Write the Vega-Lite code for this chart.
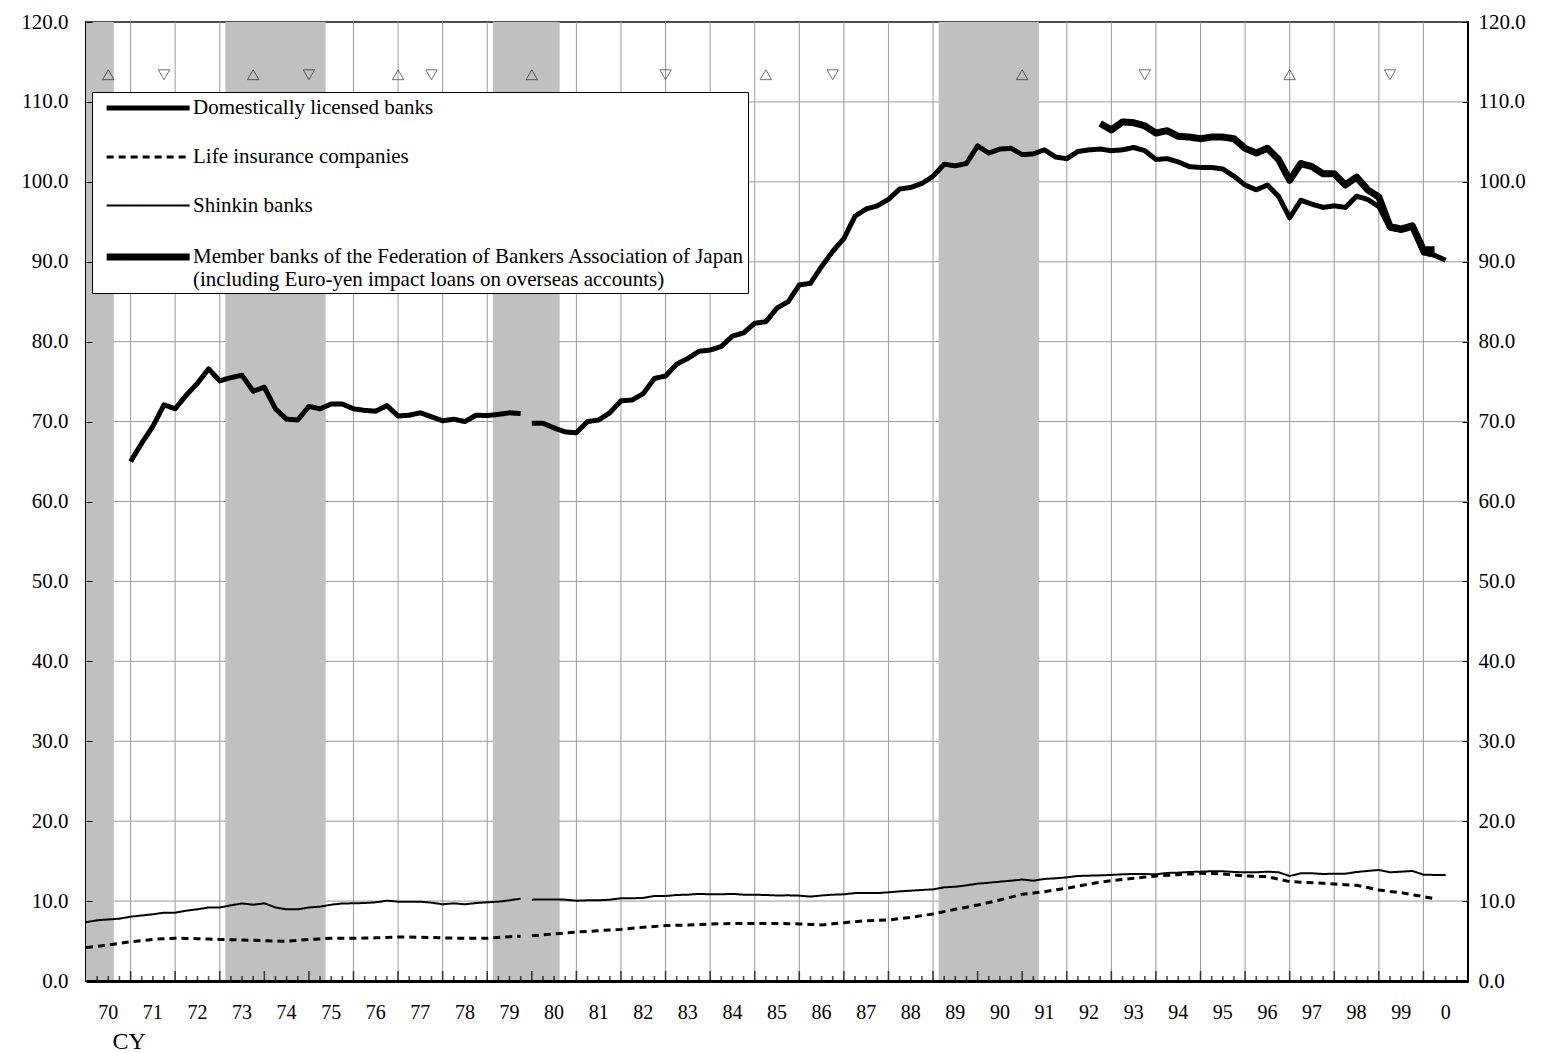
{
  "$schema": "https://vega.github.io/schema/vega-lite/v6.json",
  "width": 1382,
  "height": 959,
  "autosize": {"type": "none"},
  "padding": {"left": 86, "top": 22, "right": 77, "bottom": 72},
  "background": "white",
  "config": {
    "view": {"stroke": "black", "strokeWidth": 2},
    "font": "Liberation Serif",
    "legend": {
      "orient": "none",
      "legendX": 6,
      "legendY": 70,
      "fillColor": "white",
      "strokeColor": "black",
      "padding": 3,
      "symbolType": "M-0.229,0H7.77",
      "symbolSize": 430.6,
      "symbolStrokeColor": "black",
      "labelFont": "Liberation Serif",
      "labelFontSize": 21,
      "labelColor": "black",
      "labelLimit": 0,
      "labelOffset": 70,
      "rowPadding": 27
    }
  },
  "datasets": {
    "vgrid": [{"g":1971},{"g":1972},{"g":1973},{"g":1974},{"g":1975},{"g":1976},{"g":1977},{"g":1978},{"g":1979},{"g":1980},{"g":1981},{"g":1982},{"g":1983},{"g":1984},{"g":1985},{"g":1986},{"g":1987},{"g":1988},{"g":1989},{"g":1990},{"g":1991},{"g":1992},{"g":1993},{"g":1994},{"g":1995},{"g":1996},{"g":1997},{"g":1998},{"g":1999},{"g":2000}],
    "quarters": [{"q":1970.25},{"q":1970.5},{"q":1970.75},{"q":1971.25},{"q":1971.5},{"q":1971.75},{"q":1972.25},{"q":1972.5},{"q":1972.75},{"q":1973.25},{"q":1973.5},{"q":1973.75},{"q":1974.25},{"q":1974.5},{"q":1974.75},{"q":1975.25},{"q":1975.5},{"q":1975.75},{"q":1976.25},{"q":1976.5},{"q":1976.75},{"q":1977.25},{"q":1977.5},{"q":1977.75},{"q":1978.25},{"q":1978.5},{"q":1978.75},{"q":1979.25},{"q":1979.5},{"q":1979.75},{"q":1980.25},{"q":1980.5},{"q":1980.75},{"q":1981.25},{"q":1981.5},{"q":1981.75},{"q":1982.25},{"q":1982.5},{"q":1982.75},{"q":1983.25},{"q":1983.5},{"q":1983.75},{"q":1984.25},{"q":1984.5},{"q":1984.75},{"q":1985.25},{"q":1985.5},{"q":1985.75},{"q":1986.25},{"q":1986.5},{"q":1986.75},{"q":1987.25},{"q":1987.5},{"q":1987.75},{"q":1988.25},{"q":1988.5},{"q":1988.75},{"q":1989.25},{"q":1989.5},{"q":1989.75},{"q":1990.25},{"q":1990.5},{"q":1990.75},{"q":1991.25},{"q":1991.5},{"q":1991.75},{"q":1992.25},{"q":1992.5},{"q":1992.75},{"q":1993.25},{"q":1993.5},{"q":1993.75},{"q":1994.25},{"q":1994.5},{"q":1994.75},{"q":1995.25},{"q":1995.5},{"q":1995.75},{"q":1996.25},{"q":1996.5},{"q":1996.75},{"q":1997.25},{"q":1997.5},{"q":1997.75},{"q":1998.25},{"q":1998.5},{"q":1998.75},{"q":1999.25},{"q":1999.5},{"q":1999.75},{"q":2000.25},{"q":2000.5},{"q":2000.75}],
    "yearlabels": [{"t":1970.5,"lab":"70"},{"t":1971.5,"lab":"71"},{"t":1972.5,"lab":"72"},{"t":1973.5,"lab":"73"},{"t":1974.5,"lab":"74"},{"t":1975.5,"lab":"75"},{"t":1976.5,"lab":"76"},{"t":1977.5,"lab":"77"},{"t":1978.5,"lab":"78"},{"t":1979.5,"lab":"79"},{"t":1980.5,"lab":"80"},{"t":1981.5,"lab":"81"},{"t":1982.5,"lab":"82"},{"t":1983.5,"lab":"83"},{"t":1984.5,"lab":"84"},{"t":1985.5,"lab":"85"},{"t":1986.5,"lab":"86"},{"t":1987.5,"lab":"87"},{"t":1988.5,"lab":"88"},{"t":1989.5,"lab":"89"},{"t":1990.5,"lab":"90"},{"t":1991.5,"lab":"91"},{"t":1992.5,"lab":"92"},{"t":1993.5,"lab":"93"},{"t":1994.5,"lab":"94"},{"t":1995.5,"lab":"95"},{"t":1996.5,"lab":"96"},{"t":1997.5,"lab":"97"},{"t":1998.5,"lab":"98"},{"t":1999.5,"lab":"99"},{"t":2000.5,"lab":"0"}],
    "hgrid": [{"g":0},{"g":10},{"g":20},{"g":30},{"g":40},{"g":50},{"g":60},{"g":70},{"g":80},{"g":90},{"g":100},{"g":110},{"g":120}],
    "bands": [
      {"start":1970.0,"end":1970.625},
      {"start":1973.125,"end":1975.375},
      {"start":1979.125,"end":1980.625},
      {"start":1989.125,"end":1991.375}
    ],
    "marks": [
      {"t":1970.5,"k":"peak"},{"t":1971.75,"k":"trough"},{"t":1973.75,"k":"peak"},{"t":1975.0,"k":"trough"},
      {"t":1977.0,"k":"peak"},{"t":1977.75,"k":"trough"},{"t":1980.0,"k":"peak"},{"t":1983.0,"k":"trough"},
      {"t":1985.25,"k":"peak"},{"t":1986.75,"k":"trough"},{"t":1991.0,"k":"peak"},{"t":1993.75,"k":"trough"},
      {"t":1997.0,"k":"peak"},{"t":1999.25,"k":"trough"}
    ],
    "series": [
      {"s":"Domestically licensed banks","g":1,"t":1971,"v":65.0},
      {"s":"Domestically licensed banks","g":1,"t":1971.25,"v":67.3},
      {"s":"Domestically licensed banks","g":1,"t":1971.5,"v":69.4},
      {"s":"Domestically licensed banks","g":1,"t":1971.75,"v":72.1},
      {"s":"Domestically licensed banks","g":1,"t":1972,"v":71.6},
      {"s":"Domestically licensed banks","g":1,"t":1972.25,"v":73.3},
      {"s":"Domestically licensed banks","g":1,"t":1972.5,"v":74.8},
      {"s":"Domestically licensed banks","g":1,"t":1972.75,"v":76.6},
      {"s":"Domestically licensed banks","g":1,"t":1973,"v":75.1},
      {"s":"Domestically licensed banks","g":1,"t":1973.25,"v":75.5},
      {"s":"Domestically licensed banks","g":1,"t":1973.5,"v":75.8},
      {"s":"Domestically licensed banks","g":1,"t":1973.75,"v":73.8},
      {"s":"Domestically licensed banks","g":1,"t":1974,"v":74.3},
      {"s":"Domestically licensed banks","g":1,"t":1974.25,"v":71.6},
      {"s":"Domestically licensed banks","g":1,"t":1974.5,"v":70.3},
      {"s":"Domestically licensed banks","g":1,"t":1974.75,"v":70.2},
      {"s":"Domestically licensed banks","g":1,"t":1975,"v":71.9},
      {"s":"Domestically licensed banks","g":1,"t":1975.25,"v":71.6},
      {"s":"Domestically licensed banks","g":1,"t":1975.5,"v":72.2},
      {"s":"Domestically licensed banks","g":1,"t":1975.75,"v":72.2},
      {"s":"Domestically licensed banks","g":1,"t":1976,"v":71.6},
      {"s":"Domestically licensed banks","g":1,"t":1976.25,"v":71.4},
      {"s":"Domestically licensed banks","g":1,"t":1976.5,"v":71.3},
      {"s":"Domestically licensed banks","g":1,"t":1976.75,"v":72.0},
      {"s":"Domestically licensed banks","g":1,"t":1977,"v":70.7},
      {"s":"Domestically licensed banks","g":1,"t":1977.25,"v":70.8},
      {"s":"Domestically licensed banks","g":1,"t":1977.5,"v":71.1},
      {"s":"Domestically licensed banks","g":1,"t":1977.75,"v":70.6},
      {"s":"Domestically licensed banks","g":1,"t":1978,"v":70.1},
      {"s":"Domestically licensed banks","g":1,"t":1978.25,"v":70.3},
      {"s":"Domestically licensed banks","g":1,"t":1978.5,"v":70.0},
      {"s":"Domestically licensed banks","g":1,"t":1978.75,"v":70.8},
      {"s":"Domestically licensed banks","g":1,"t":1979,"v":70.75},
      {"s":"Domestically licensed banks","g":1,"t":1979.25,"v":70.9},
      {"s":"Domestically licensed banks","g":1,"t":1979.5,"v":71.1},
      {"s":"Domestically licensed banks","g":1,"t":1979.75,"v":71.0},
      {"s":"Domestically licensed banks","g":2,"t":1980,"v":69.8},
      {"s":"Domestically licensed banks","g":2,"t":1980.25,"v":69.8},
      {"s":"Domestically licensed banks","g":2,"t":1980.5,"v":69.2},
      {"s":"Domestically licensed banks","g":2,"t":1980.75,"v":68.7},
      {"s":"Domestically licensed banks","g":2,"t":1981,"v":68.6},
      {"s":"Domestically licensed banks","g":2,"t":1981.25,"v":70.0},
      {"s":"Domestically licensed banks","g":2,"t":1981.5,"v":70.2},
      {"s":"Domestically licensed banks","g":2,"t":1981.75,"v":71.1},
      {"s":"Domestically licensed banks","g":2,"t":1982,"v":72.6},
      {"s":"Domestically licensed banks","g":2,"t":1982.25,"v":72.7},
      {"s":"Domestically licensed banks","g":2,"t":1982.5,"v":73.5},
      {"s":"Domestically licensed banks","g":2,"t":1982.75,"v":75.4},
      {"s":"Domestically licensed banks","g":2,"t":1983,"v":75.7},
      {"s":"Domestically licensed banks","g":2,"t":1983.25,"v":77.2},
      {"s":"Domestically licensed banks","g":2,"t":1983.5,"v":77.9},
      {"s":"Domestically licensed banks","g":2,"t":1983.75,"v":78.8},
      {"s":"Domestically licensed banks","g":2,"t":1984,"v":78.95},
      {"s":"Domestically licensed banks","g":2,"t":1984.25,"v":79.4},
      {"s":"Domestically licensed banks","g":2,"t":1984.5,"v":80.7},
      {"s":"Domestically licensed banks","g":2,"t":1984.75,"v":81.1},
      {"s":"Domestically licensed banks","g":2,"t":1985,"v":82.3},
      {"s":"Domestically licensed banks","g":2,"t":1985.25,"v":82.5},
      {"s":"Domestically licensed banks","g":2,"t":1985.5,"v":84.2},
      {"s":"Domestically licensed banks","g":2,"t":1985.75,"v":85.0},
      {"s":"Domestically licensed banks","g":2,"t":1986,"v":87.1},
      {"s":"Domestically licensed banks","g":2,"t":1986.25,"v":87.3},
      {"s":"Domestically licensed banks","g":2,"t":1986.5,"v":89.4},
      {"s":"Domestically licensed banks","g":2,"t":1986.75,"v":91.3},
      {"s":"Domestically licensed banks","g":2,"t":1987,"v":92.9},
      {"s":"Domestically licensed banks","g":2,"t":1987.25,"v":95.7},
      {"s":"Domestically licensed banks","g":2,"t":1987.5,"v":96.6},
      {"s":"Domestically licensed banks","g":2,"t":1987.75,"v":97.0},
      {"s":"Domestically licensed banks","g":2,"t":1988,"v":97.8},
      {"s":"Domestically licensed banks","g":2,"t":1988.25,"v":99.1},
      {"s":"Domestically licensed banks","g":2,"t":1988.5,"v":99.3},
      {"s":"Domestically licensed banks","g":2,"t":1988.75,"v":99.8},
      {"s":"Domestically licensed banks","g":2,"t":1989,"v":100.7},
      {"s":"Domestically licensed banks","g":2,"t":1989.25,"v":102.2},
      {"s":"Domestically licensed banks","g":2,"t":1989.5,"v":102.0},
      {"s":"Domestically licensed banks","g":2,"t":1989.75,"v":102.3},
      {"s":"Domestically licensed banks","g":2,"t":1990,"v":104.5},
      {"s":"Domestically licensed banks","g":2,"t":1990.25,"v":103.6},
      {"s":"Domestically licensed banks","g":2,"t":1990.5,"v":104.1},
      {"s":"Domestically licensed banks","g":2,"t":1990.75,"v":104.2},
      {"s":"Domestically licensed banks","g":2,"t":1991,"v":103.4},
      {"s":"Domestically licensed banks","g":2,"t":1991.25,"v":103.5},
      {"s":"Domestically licensed banks","g":2,"t":1991.5,"v":104.0},
      {"s":"Domestically licensed banks","g":2,"t":1991.75,"v":103.1},
      {"s":"Domestically licensed banks","g":2,"t":1992,"v":102.9},
      {"s":"Domestically licensed banks","g":2,"t":1992.25,"v":103.8},
      {"s":"Domestically licensed banks","g":2,"t":1992.5,"v":104.0},
      {"s":"Domestically licensed banks","g":2,"t":1992.75,"v":104.1},
      {"s":"Domestically licensed banks","g":2,"t":1993,"v":103.9},
      {"s":"Domestically licensed banks","g":2,"t":1993.25,"v":104.0},
      {"s":"Domestically licensed banks","g":2,"t":1993.5,"v":104.3},
      {"s":"Domestically licensed banks","g":2,"t":1993.75,"v":103.9},
      {"s":"Domestically licensed banks","g":2,"t":1994,"v":102.8},
      {"s":"Domestically licensed banks","g":2,"t":1994.25,"v":102.9},
      {"s":"Domestically licensed banks","g":2,"t":1994.5,"v":102.5},
      {"s":"Domestically licensed banks","g":2,"t":1994.75,"v":101.9},
      {"s":"Domestically licensed banks","g":2,"t":1995,"v":101.8},
      {"s":"Domestically licensed banks","g":2,"t":1995.25,"v":101.8},
      {"s":"Domestically licensed banks","g":2,"t":1995.5,"v":101.6},
      {"s":"Domestically licensed banks","g":2,"t":1995.75,"v":100.7},
      {"s":"Domestically licensed banks","g":2,"t":1996,"v":99.6},
      {"s":"Domestically licensed banks","g":2,"t":1996.25,"v":99.0},
      {"s":"Domestically licensed banks","g":2,"t":1996.5,"v":99.6},
      {"s":"Domestically licensed banks","g":2,"t":1996.75,"v":98.2},
      {"s":"Domestically licensed banks","g":2,"t":1997,"v":95.5},
      {"s":"Domestically licensed banks","g":2,"t":1997.25,"v":97.7},
      {"s":"Domestically licensed banks","g":2,"t":1997.5,"v":97.2},
      {"s":"Domestically licensed banks","g":2,"t":1997.75,"v":96.8},
      {"s":"Domestically licensed banks","g":2,"t":1998,"v":97.0},
      {"s":"Domestically licensed banks","g":2,"t":1998.25,"v":96.8},
      {"s":"Domestically licensed banks","g":2,"t":1998.5,"v":98.2},
      {"s":"Domestically licensed banks","g":2,"t":1998.75,"v":97.8},
      {"s":"Domestically licensed banks","g":2,"t":1999,"v":96.9},
      {"s":"Domestically licensed banks","g":2,"t":1999.25,"v":94.2},
      {"s":"Domestically licensed banks","g":2,"t":1999.5,"v":93.9},
      {"s":"Domestically licensed banks","g":2,"t":1999.75,"v":94.3},
      {"s":"Domestically licensed banks","g":2,"t":2000,"v":91.1},
      {"s":"Domestically licensed banks","g":2,"t":2000.25,"v":90.8},
      {"s":"Domestically licensed banks","g":2,"t":2000.5,"v":90.2},

      {"s":"Life insurance companies","g":1,"t":1970,"v":4.2},
      {"s":"Life insurance companies","g":1,"t":1970.25,"v":4.35},
      {"s":"Life insurance companies","g":1,"t":1970.5,"v":4.5},
      {"s":"Life insurance companies","g":1,"t":1970.75,"v":4.7},
      {"s":"Life insurance companies","g":1,"t":1971,"v":4.92},
      {"s":"Life insurance companies","g":1,"t":1971.25,"v":5.05},
      {"s":"Life insurance companies","g":1,"t":1971.5,"v":5.2},
      {"s":"Life insurance companies","g":1,"t":1971.75,"v":5.3},
      {"s":"Life insurance companies","g":1,"t":1972,"v":5.34},
      {"s":"Life insurance companies","g":1,"t":1972.25,"v":5.33},
      {"s":"Life insurance companies","g":1,"t":1972.5,"v":5.3},
      {"s":"Life insurance companies","g":1,"t":1972.75,"v":5.25},
      {"s":"Life insurance companies","g":1,"t":1973,"v":5.2},
      {"s":"Life insurance companies","g":1,"t":1973.25,"v":5.17},
      {"s":"Life insurance companies","g":1,"t":1973.5,"v":5.13},
      {"s":"Life insurance companies","g":1,"t":1973.75,"v":5.1},
      {"s":"Life insurance companies","g":1,"t":1974,"v":5.05},
      {"s":"Life insurance companies","g":1,"t":1974.25,"v":5.0},
      {"s":"Life insurance companies","g":1,"t":1974.5,"v":4.97},
      {"s":"Life insurance companies","g":1,"t":1974.75,"v":5.08},
      {"s":"Life insurance companies","g":1,"t":1975,"v":5.2},
      {"s":"Life insurance companies","g":1,"t":1975.25,"v":5.27},
      {"s":"Life insurance companies","g":1,"t":1975.5,"v":5.34},
      {"s":"Life insurance companies","g":1,"t":1975.75,"v":5.34},
      {"s":"Life insurance companies","g":1,"t":1976,"v":5.34},
      {"s":"Life insurance companies","g":1,"t":1976.25,"v":5.37},
      {"s":"Life insurance companies","g":1,"t":1976.5,"v":5.4},
      {"s":"Life insurance companies","g":1,"t":1976.75,"v":5.45},
      {"s":"Life insurance companies","g":1,"t":1977,"v":5.5},
      {"s":"Life insurance companies","g":1,"t":1977.25,"v":5.5},
      {"s":"Life insurance companies","g":1,"t":1977.5,"v":5.47},
      {"s":"Life insurance companies","g":1,"t":1977.75,"v":5.44},
      {"s":"Life insurance companies","g":1,"t":1978,"v":5.4},
      {"s":"Life insurance companies","g":1,"t":1978.25,"v":5.37},
      {"s":"Life insurance companies","g":1,"t":1978.5,"v":5.34},
      {"s":"Life insurance companies","g":1,"t":1978.75,"v":5.34},
      {"s":"Life insurance companies","g":1,"t":1979,"v":5.34},
      {"s":"Life insurance companies","g":1,"t":1979.25,"v":5.45},
      {"s":"Life insurance companies","g":1,"t":1979.5,"v":5.55},
      {"s":"Life insurance companies","g":1,"t":1979.75,"v":5.6},
      {"s":"Life insurance companies","g":2,"t":1980,"v":5.67},
      {"s":"Life insurance companies","g":2,"t":1980.25,"v":5.78},
      {"s":"Life insurance companies","g":2,"t":1980.5,"v":5.88},
      {"s":"Life insurance companies","g":2,"t":1980.75,"v":6.0},
      {"s":"Life insurance companies","g":2,"t":1981,"v":6.13},
      {"s":"Life insurance companies","g":2,"t":1981.25,"v":6.2},
      {"s":"Life insurance companies","g":2,"t":1981.5,"v":6.3},
      {"s":"Life insurance companies","g":2,"t":1981.75,"v":6.38},
      {"s":"Life insurance companies","g":2,"t":1982,"v":6.46},
      {"s":"Life insurance companies","g":2,"t":1982.25,"v":6.6},
      {"s":"Life insurance companies","g":2,"t":1982.5,"v":6.72},
      {"s":"Life insurance companies","g":2,"t":1982.75,"v":6.83},
      {"s":"Life insurance companies","g":2,"t":1983,"v":6.93},
      {"s":"Life insurance companies","g":2,"t":1983.25,"v":6.97},
      {"s":"Life insurance companies","g":2,"t":1983.5,"v":7.0},
      {"s":"Life insurance companies","g":2,"t":1983.75,"v":7.06},
      {"s":"Life insurance companies","g":2,"t":1984,"v":7.13},
      {"s":"Life insurance companies","g":2,"t":1984.25,"v":7.17},
      {"s":"Life insurance companies","g":2,"t":1984.5,"v":7.2},
      {"s":"Life insurance companies","g":2,"t":1984.75,"v":7.2},
      {"s":"Life insurance companies","g":2,"t":1985,"v":7.2},
      {"s":"Life insurance companies","g":2,"t":1985.25,"v":7.2},
      {"s":"Life insurance companies","g":2,"t":1985.5,"v":7.2},
      {"s":"Life insurance companies","g":2,"t":1985.75,"v":7.17},
      {"s":"Life insurance companies","g":2,"t":1986,"v":7.14},
      {"s":"Life insurance companies","g":2,"t":1986.25,"v":7.08},
      {"s":"Life insurance companies","g":2,"t":1986.5,"v":7.01},
      {"s":"Life insurance companies","g":2,"t":1986.75,"v":7.15},
      {"s":"Life insurance companies","g":2,"t":1987,"v":7.3},
      {"s":"Life insurance companies","g":2,"t":1987.25,"v":7.42},
      {"s":"Life insurance companies","g":2,"t":1987.5,"v":7.55},
      {"s":"Life insurance companies","g":2,"t":1987.75,"v":7.6},
      {"s":"Life insurance companies","g":2,"t":1988,"v":7.63},
      {"s":"Life insurance companies","g":2,"t":1988.25,"v":7.8},
      {"s":"Life insurance companies","g":2,"t":1988.5,"v":7.97},
      {"s":"Life insurance companies","g":2,"t":1988.75,"v":8.18},
      {"s":"Life insurance companies","g":2,"t":1989,"v":8.39},
      {"s":"Life insurance companies","g":2,"t":1989.25,"v":8.68},
      {"s":"Life insurance companies","g":2,"t":1989.5,"v":8.97},
      {"s":"Life insurance companies","g":2,"t":1989.75,"v":9.23},
      {"s":"Life insurance companies","g":2,"t":1990,"v":9.5},
      {"s":"Life insurance companies","g":2,"t":1990.25,"v":9.82},
      {"s":"Life insurance companies","g":2,"t":1990.5,"v":10.14},
      {"s":"Life insurance companies","g":2,"t":1990.75,"v":10.5},
      {"s":"Life insurance companies","g":2,"t":1991,"v":10.85},
      {"s":"Life insurance companies","g":2,"t":1991.25,"v":11.0},
      {"s":"Life insurance companies","g":2,"t":1991.5,"v":11.18},
      {"s":"Life insurance companies","g":2,"t":1991.75,"v":11.4},
      {"s":"Life insurance companies","g":2,"t":1992,"v":11.6},
      {"s":"Life insurance companies","g":2,"t":1992.25,"v":11.87},
      {"s":"Life insurance companies","g":2,"t":1992.5,"v":12.14},
      {"s":"Life insurance companies","g":2,"t":1992.75,"v":12.35},
      {"s":"Life insurance companies","g":2,"t":1993,"v":12.56},
      {"s":"Life insurance companies","g":2,"t":1993.25,"v":12.7},
      {"s":"Life insurance companies","g":2,"t":1993.5,"v":12.85},
      {"s":"Life insurance companies","g":2,"t":1993.75,"v":13.0},
      {"s":"Life insurance companies","g":2,"t":1994,"v":13.14},
      {"s":"Life insurance companies","g":2,"t":1994.25,"v":13.22},
      {"s":"Life insurance companies","g":2,"t":1994.5,"v":13.31},
      {"s":"Life insurance companies","g":2,"t":1994.75,"v":13.4},
      {"s":"Life insurance companies","g":2,"t":1995,"v":13.48},
      {"s":"Life insurance companies","g":2,"t":1995.25,"v":13.44},
      {"s":"Life insurance companies","g":2,"t":1995.5,"v":13.39},
      {"s":"Life insurance companies","g":2,"t":1995.75,"v":13.27},
      {"s":"Life insurance companies","g":2,"t":1996,"v":13.14},
      {"s":"Life insurance companies","g":2,"t":1996.25,"v":13.1},
      {"s":"Life insurance companies","g":2,"t":1996.5,"v":13.06},
      {"s":"Life insurance companies","g":2,"t":1996.75,"v":12.75},
      {"s":"Life insurance companies","g":2,"t":1997,"v":12.43},
      {"s":"Life insurance companies","g":2,"t":1997.25,"v":12.37},
      {"s":"Life insurance companies","g":2,"t":1997.5,"v":12.3},
      {"s":"Life insurance companies","g":2,"t":1997.75,"v":12.22},
      {"s":"Life insurance companies","g":2,"t":1998,"v":12.14},
      {"s":"Life insurance companies","g":2,"t":1998.25,"v":12.05},
      {"s":"Life insurance companies","g":2,"t":1998.5,"v":11.97},
      {"s":"Life insurance companies","g":2,"t":1998.75,"v":11.7},
      {"s":"Life insurance companies","g":2,"t":1999,"v":11.39},
      {"s":"Life insurance companies","g":2,"t":1999.25,"v":11.2},
      {"s":"Life insurance companies","g":2,"t":1999.5,"v":11.05},
      {"s":"Life insurance companies","g":2,"t":1999.75,"v":10.8},
      {"s":"Life insurance companies","g":2,"t":2000,"v":10.56},
      {"s":"Life insurance companies","g":2,"t":2000.25,"v":10.3},

      {"s":"Shinkin banks","g":1,"t":1970,"v":7.35},
      {"s":"Shinkin banks","g":1,"t":1970.25,"v":7.6},
      {"s":"Shinkin banks","g":1,"t":1970.5,"v":7.7},
      {"s":"Shinkin banks","g":1,"t":1970.75,"v":7.8},
      {"s":"Shinkin banks","g":1,"t":1971,"v":8.05},
      {"s":"Shinkin banks","g":1,"t":1971.25,"v":8.2},
      {"s":"Shinkin banks","g":1,"t":1971.5,"v":8.35},
      {"s":"Shinkin banks","g":1,"t":1971.75,"v":8.55},
      {"s":"Shinkin banks","g":1,"t":1972,"v":8.55},
      {"s":"Shinkin banks","g":1,"t":1972.25,"v":8.8},
      {"s":"Shinkin banks","g":1,"t":1972.5,"v":8.97},
      {"s":"Shinkin banks","g":1,"t":1972.75,"v":9.2},
      {"s":"Shinkin banks","g":1,"t":1973,"v":9.2},
      {"s":"Shinkin banks","g":1,"t":1973.25,"v":9.47},
      {"s":"Shinkin banks","g":1,"t":1973.5,"v":9.7},
      {"s":"Shinkin banks","g":1,"t":1973.75,"v":9.55},
      {"s":"Shinkin banks","g":1,"t":1974,"v":9.72},
      {"s":"Shinkin banks","g":1,"t":1974.25,"v":9.2},
      {"s":"Shinkin banks","g":1,"t":1974.5,"v":8.97},
      {"s":"Shinkin banks","g":1,"t":1974.75,"v":8.97},
      {"s":"Shinkin banks","g":1,"t":1975,"v":9.2},
      {"s":"Shinkin banks","g":1,"t":1975.25,"v":9.3},
      {"s":"Shinkin banks","g":1,"t":1975.5,"v":9.55},
      {"s":"Shinkin banks","g":1,"t":1975.75,"v":9.7},
      {"s":"Shinkin banks","g":1,"t":1976,"v":9.72},
      {"s":"Shinkin banks","g":1,"t":1976.25,"v":9.76},
      {"s":"Shinkin banks","g":1,"t":1976.5,"v":9.85},
      {"s":"Shinkin banks","g":1,"t":1976.75,"v":10.05},
      {"s":"Shinkin banks","g":1,"t":1977,"v":9.93},
      {"s":"Shinkin banks","g":1,"t":1977.25,"v":9.93},
      {"s":"Shinkin banks","g":1,"t":1977.5,"v":9.93},
      {"s":"Shinkin banks","g":1,"t":1977.75,"v":9.8},
      {"s":"Shinkin banks","g":1,"t":1978,"v":9.6},
      {"s":"Shinkin banks","g":1,"t":1978.25,"v":9.72},
      {"s":"Shinkin banks","g":1,"t":1978.5,"v":9.6},
      {"s":"Shinkin banks","g":1,"t":1978.75,"v":9.76},
      {"s":"Shinkin banks","g":1,"t":1979,"v":9.85},
      {"s":"Shinkin banks","g":1,"t":1979.25,"v":9.93},
      {"s":"Shinkin banks","g":1,"t":1979.5,"v":10.1},
      {"s":"Shinkin banks","g":1,"t":1979.75,"v":10.3},
      {"s":"Shinkin banks","g":2,"t":1980,"v":10.18},
      {"s":"Shinkin banks","g":2,"t":1980.25,"v":10.2},
      {"s":"Shinkin banks","g":2,"t":1980.5,"v":10.2},
      {"s":"Shinkin banks","g":2,"t":1980.75,"v":10.18},
      {"s":"Shinkin banks","g":2,"t":1981,"v":10.05},
      {"s":"Shinkin banks","g":2,"t":1981.25,"v":10.1},
      {"s":"Shinkin banks","g":2,"t":1981.5,"v":10.1},
      {"s":"Shinkin banks","g":2,"t":1981.75,"v":10.18},
      {"s":"Shinkin banks","g":2,"t":1982,"v":10.35},
      {"s":"Shinkin banks","g":2,"t":1982.25,"v":10.35},
      {"s":"Shinkin banks","g":2,"t":1982.5,"v":10.4},
      {"s":"Shinkin banks","g":2,"t":1982.75,"v":10.64},
      {"s":"Shinkin banks","g":2,"t":1983,"v":10.64},
      {"s":"Shinkin banks","g":2,"t":1983.25,"v":10.76},
      {"s":"Shinkin banks","g":2,"t":1983.5,"v":10.8},
      {"s":"Shinkin banks","g":2,"t":1983.75,"v":10.9},
      {"s":"Shinkin banks","g":2,"t":1984,"v":10.85},
      {"s":"Shinkin banks","g":2,"t":1984.25,"v":10.85},
      {"s":"Shinkin banks","g":2,"t":1984.5,"v":10.9},
      {"s":"Shinkin banks","g":2,"t":1984.75,"v":10.8},
      {"s":"Shinkin banks","g":2,"t":1985,"v":10.8},
      {"s":"Shinkin banks","g":2,"t":1985.25,"v":10.76},
      {"s":"Shinkin banks","g":2,"t":1985.5,"v":10.7},
      {"s":"Shinkin banks","g":2,"t":1985.75,"v":10.72},
      {"s":"Shinkin banks","g":2,"t":1986,"v":10.68},
      {"s":"Shinkin banks","g":2,"t":1986.25,"v":10.56},
      {"s":"Shinkin banks","g":2,"t":1986.5,"v":10.7},
      {"s":"Shinkin banks","g":2,"t":1986.75,"v":10.8},
      {"s":"Shinkin banks","g":2,"t":1987,"v":10.85},
      {"s":"Shinkin banks","g":2,"t":1987.25,"v":11.0},
      {"s":"Shinkin banks","g":2,"t":1987.5,"v":11.0},
      {"s":"Shinkin banks","g":2,"t":1987.75,"v":11.0},
      {"s":"Shinkin banks","g":2,"t":1988,"v":11.1},
      {"s":"Shinkin banks","g":2,"t":1988.25,"v":11.22},
      {"s":"Shinkin banks","g":2,"t":1988.5,"v":11.3},
      {"s":"Shinkin banks","g":2,"t":1988.75,"v":11.39},
      {"s":"Shinkin banks","g":2,"t":1989,"v":11.47},
      {"s":"Shinkin banks","g":2,"t":1989.25,"v":11.72},
      {"s":"Shinkin banks","g":2,"t":1989.5,"v":11.8},
      {"s":"Shinkin banks","g":2,"t":1989.75,"v":11.97},
      {"s":"Shinkin banks","g":2,"t":1990,"v":12.18},
      {"s":"Shinkin banks","g":2,"t":1990.25,"v":12.3},
      {"s":"Shinkin banks","g":2,"t":1990.5,"v":12.43},
      {"s":"Shinkin banks","g":2,"t":1990.75,"v":12.55},
      {"s":"Shinkin banks","g":2,"t":1991,"v":12.7},
      {"s":"Shinkin banks","g":2,"t":1991.25,"v":12.55},
      {"s":"Shinkin banks","g":2,"t":1991.5,"v":12.77},
      {"s":"Shinkin banks","g":2,"t":1991.75,"v":12.85},
      {"s":"Shinkin banks","g":2,"t":1992,"v":12.97},
      {"s":"Shinkin banks","g":2,"t":1992.25,"v":13.14},
      {"s":"Shinkin banks","g":2,"t":1992.5,"v":13.18},
      {"s":"Shinkin banks","g":2,"t":1992.75,"v":13.22},
      {"s":"Shinkin banks","g":2,"t":1993,"v":13.27},
      {"s":"Shinkin banks","g":2,"t":1993.25,"v":13.35},
      {"s":"Shinkin banks","g":2,"t":1993.5,"v":13.39},
      {"s":"Shinkin banks","g":2,"t":1993.75,"v":13.39},
      {"s":"Shinkin banks","g":2,"t":1994,"v":13.35},
      {"s":"Shinkin banks","g":2,"t":1994.25,"v":13.52},
      {"s":"Shinkin banks","g":2,"t":1994.5,"v":13.56},
      {"s":"Shinkin banks","g":2,"t":1994.75,"v":13.64},
      {"s":"Shinkin banks","g":2,"t":1995,"v":13.68},
      {"s":"Shinkin banks","g":2,"t":1995.25,"v":13.73},
      {"s":"Shinkin banks","g":2,"t":1995.5,"v":13.73},
      {"s":"Shinkin banks","g":2,"t":1995.75,"v":13.64},
      {"s":"Shinkin banks","g":2,"t":1996,"v":13.6},
      {"s":"Shinkin banks","g":2,"t":1996.25,"v":13.6},
      {"s":"Shinkin banks","g":2,"t":1996.5,"v":13.68},
      {"s":"Shinkin banks","g":2,"t":1996.75,"v":13.6},
      {"s":"Shinkin banks","g":2,"t":1997,"v":13.14},
      {"s":"Shinkin banks","g":2,"t":1997.25,"v":13.48},
      {"s":"Shinkin banks","g":2,"t":1997.5,"v":13.48},
      {"s":"Shinkin banks","g":2,"t":1997.75,"v":13.39},
      {"s":"Shinkin banks","g":2,"t":1998,"v":13.43},
      {"s":"Shinkin banks","g":2,"t":1998.25,"v":13.43},
      {"s":"Shinkin banks","g":2,"t":1998.5,"v":13.64},
      {"s":"Shinkin banks","g":2,"t":1998.75,"v":13.77},
      {"s":"Shinkin banks","g":2,"t":1999,"v":13.89},
      {"s":"Shinkin banks","g":2,"t":1999.25,"v":13.6},
      {"s":"Shinkin banks","g":2,"t":1999.5,"v":13.68},
      {"s":"Shinkin banks","g":2,"t":1999.75,"v":13.77},
      {"s":"Shinkin banks","g":2,"t":2000,"v":13.31},
      {"s":"Shinkin banks","g":2,"t":2000.25,"v":13.27},
      {"s":"Shinkin banks","g":2,"t":2000.5,"v":13.27},

      {"s":"Member banks of the Federation of Bankers Association of Japan","g":1,"t":1992.75,"v":107.3},
      {"s":"Member banks of the Federation of Bankers Association of Japan","g":1,"t":1993,"v":106.5},
      {"s":"Member banks of the Federation of Bankers Association of Japan","g":1,"t":1993.25,"v":107.5},
      {"s":"Member banks of the Federation of Bankers Association of Japan","g":1,"t":1993.5,"v":107.4},
      {"s":"Member banks of the Federation of Bankers Association of Japan","g":1,"t":1993.75,"v":107.0},
      {"s":"Member banks of the Federation of Bankers Association of Japan","g":1,"t":1994,"v":106.1},
      {"s":"Member banks of the Federation of Bankers Association of Japan","g":1,"t":1994.25,"v":106.4},
      {"s":"Member banks of the Federation of Bankers Association of Japan","g":1,"t":1994.5,"v":105.7},
      {"s":"Member banks of the Federation of Bankers Association of Japan","g":1,"t":1994.75,"v":105.6},
      {"s":"Member banks of the Federation of Bankers Association of Japan","g":1,"t":1995,"v":105.4},
      {"s":"Member banks of the Federation of Bankers Association of Japan","g":1,"t":1995.25,"v":105.6},
      {"s":"Member banks of the Federation of Bankers Association of Japan","g":1,"t":1995.5,"v":105.6},
      {"s":"Member banks of the Federation of Bankers Association of Japan","g":1,"t":1995.75,"v":105.4},
      {"s":"Member banks of the Federation of Bankers Association of Japan","g":1,"t":1996,"v":104.2},
      {"s":"Member banks of the Federation of Bankers Association of Japan","g":1,"t":1996.25,"v":103.6},
      {"s":"Member banks of the Federation of Bankers Association of Japan","g":1,"t":1996.5,"v":104.2},
      {"s":"Member banks of the Federation of Bankers Association of Japan","g":1,"t":1996.75,"v":102.8},
      {"s":"Member banks of the Federation of Bankers Association of Japan","g":1,"t":1997,"v":100.2},
      {"s":"Member banks of the Federation of Bankers Association of Japan","g":1,"t":1997.25,"v":102.3},
      {"s":"Member banks of the Federation of Bankers Association of Japan","g":1,"t":1997.5,"v":101.9},
      {"s":"Member banks of the Federation of Bankers Association of Japan","g":1,"t":1997.75,"v":101.0},
      {"s":"Member banks of the Federation of Bankers Association of Japan","g":1,"t":1998,"v":101.0},
      {"s":"Member banks of the Federation of Bankers Association of Japan","g":1,"t":1998.25,"v":99.6},
      {"s":"Member banks of the Federation of Bankers Association of Japan","g":1,"t":1998.5,"v":100.6},
      {"s":"Member banks of the Federation of Bankers Association of Japan","g":1,"t":1998.75,"v":99.0},
      {"s":"Member banks of the Federation of Bankers Association of Japan","g":1,"t":1999,"v":98.1},
      {"s":"Member banks of the Federation of Bankers Association of Japan","g":1,"t":1999.25,"v":94.4},
      {"s":"Member banks of the Federation of Bankers Association of Japan","g":1,"t":1999.5,"v":94.1},
      {"s":"Member banks of the Federation of Bankers Association of Japan","g":1,"t":1999.75,"v":94.5},
      {"s":"Member banks of the Federation of Bankers Association of Japan","g":1,"t":2000,"v":91.5},
      {"s":"Member banks of the Federation of Bankers Association of Japan","g":1,"t":2000.25,"v":91.5}
    ]
  },
  "layer": [
    {
      "data": {"name": "series"},
      "mark": {"type": "line", "color": "black", "opacity": 0},
      "encoding": {
        "x": {
          "field": "t", "type": "quantitative",
          "scale": {"domain": [1970, 2001], "nice": false, "zero": false},
          "axis": {
            "orient": "bottom",
            "ticks": false,
            "labels": false,
            "domainColor": "black",
            "domainWidth": 3,
            "grid": false,
            "zindex": 1,
            "title": "CY",
            "titleFont": "Liberation Serif",
            "titleFontSize": 24,
            "titleFontWeight": "normal",
            "titleColor": "black",
            "titleAnchor": "start",
            "titleAlign": "left",
            "titleBaseline": "alphabetic",
            "titleX": 26,
            "titleY": 67
          }
        },
        "y": {"field": "v", "type": "quantitative", "scale": {"domain": [0, 120], "nice": false}, "axis": null},
        "detail": {"field": "s", "type": "nominal"}
      }
    },
    {
      "data": {"name": "vgrid"},
      "mark": {"type": "rule", "color": "#9a9a9a", "strokeWidth": 1},
      "encoding": {
        "x": {"field": "g", "type": "quantitative"}
      }
    },
    {
      "data": {"name": "hgrid"},
      "mark": {"type": "rule", "color": "#9a9a9a", "strokeWidth": 1},
      "encoding": {
        "y": {"field": "g", "type": "quantitative", "axis": null}
      }
    },
    {
      "data": {"name": "bands"},
      "mark": {"type": "rect", "color": "#c0c0c0"},
      "encoding": {
        "x": {"field": "start", "type": "quantitative"},
        "x2": {"field": "end"}
      }
    },
    {
      "data": {"name": "vgrid"},
      "mark": {"type": "tick", "orient": "vertical", "size": 10, "thickness": 1.6, "color": "black", "yOffset": -5},
      "encoding": {
        "x": {"field": "g", "type": "quantitative"},
        "y": {"datum": 0, "type": "quantitative", "axis": null}
      }
    },
    {
      "data": {"name": "quarters"},
      "mark": {"type": "tick", "orient": "vertical", "size": 5, "thickness": 1.6, "color": "black", "yOffset": -2.5},
      "encoding": {
        "x": {"field": "q", "type": "quantitative"},
        "y": {"datum": 0, "type": "quantitative", "axis": null}
      }
    },
    {
      "data": {"name": "yearlabels"},
      "mark": {"type": "text", "font": "Liberation Serif", "fontSize": 20, "color": "black", "baseline": "middle", "align": "center", "dy": 32},
      "encoding": {
        "x": {"field": "t", "type": "quantitative"},
        "y": {"datum": 0, "type": "quantitative", "axis": null},
        "text": {"field": "lab", "type": "nominal"}
      }
    },
    {
      "data": {"name": "marks"},
      "mark": {"type": "point", "filled": false, "stroke": "black", "strokeWidth": 0.8, "size": 130},
      "encoding": {
        "x": {"field": "t", "type": "quantitative"},
        "y": {"datum": 113.4, "type": "quantitative", "axis": null},
        "shape": {"field": "k", "type": "nominal", "scale": {"domain": ["peak", "trough"], "range": ["triangle-up", "triangle-down"]}, "legend": null}
      }
    },
    {
      "data": {"name": "series"},
      "mark": {"type": "line", "color": "black", "strokeCap": "butt", "strokeJoin": "round"},
      "encoding": {
        "x": {"field": "t", "type": "quantitative"},
        "y": {
          "field": "v", "type": "quantitative",
          "axis": {
            "orient": "left",
            "values": [0,10,20,30,40,50,60,70,80,90,100,110,120],
            "format": ".1f",
            "labelFont": "Liberation Serif",
            "labelFontSize": 21,
            "labelColor": "black",
            "labelPadding": 24,
            "tickSize": -6,
            "tickColor": "black",
            "tickWidth": 1,
            "domain": false,
            "grid": false,
            "zindex": 1,
            "title": null
          }
        },
        "strokeWidth": {
          "field": "s", "type": "nominal",
          "scale": {"type": "ordinal", "domain": ["Domestically licensed banks", "Life insurance companies", "Shinkin banks", "Member banks of the Federation of Bankers Association of Japan"], "range": [5, 3, 2, 7]},
          "legend": {
            "title": null,
            "labelExpr": "datum.label == 'Member banks of the Federation of Bankers Association of Japan' ? ['Member banks of the Federation of Bankers Association of Japan', '(including Euro-yen impact loans on overseas accounts)'] : datum.label"
          }
        },
        "strokeDash": {
          "field": "s", "type": "nominal",
          "scale": {"domain": ["Domestically licensed banks", "Life insurance companies", "Shinkin banks", "Member banks of the Federation of Bankers Association of Japan"], "range": [[1, 0], [7, 5], [1, 0], [1, 0]]},
          "legend": {
            "title": null,
            "labelExpr": "datum.label == 'Member banks of the Federation of Bankers Association of Japan' ? ['Member banks of the Federation of Bankers Association of Japan', '(including Euro-yen impact loans on overseas accounts)'] : datum.label"
          }
        },
        "detail": {"field": "g", "type": "nominal"},
        "order": {"field": "t", "type": "quantitative"}
      }
    },
    {
      "data": {"name": "hgrid"},
      "mark": {"type": "point", "opacity": 0},
      "encoding": {
        "y": {
          "field": "g", "type": "quantitative",
          "axis": {
            "orient": "right",
            "values": [0,10,20,30,40,50,60,70,80,90,100,110,120],
            "format": ".1f",
            "labelFont": "Liberation Serif",
            "labelFontSize": 21,
            "labelColor": "black",
            "labelPadding": 16,
            "tickSize": -6,
            "tickColor": "black",
            "tickWidth": 1,
            "domain": false,
            "grid": false,
            "zindex": 1,
            "title": null
          }
        }
      }
    }
  ]
}
